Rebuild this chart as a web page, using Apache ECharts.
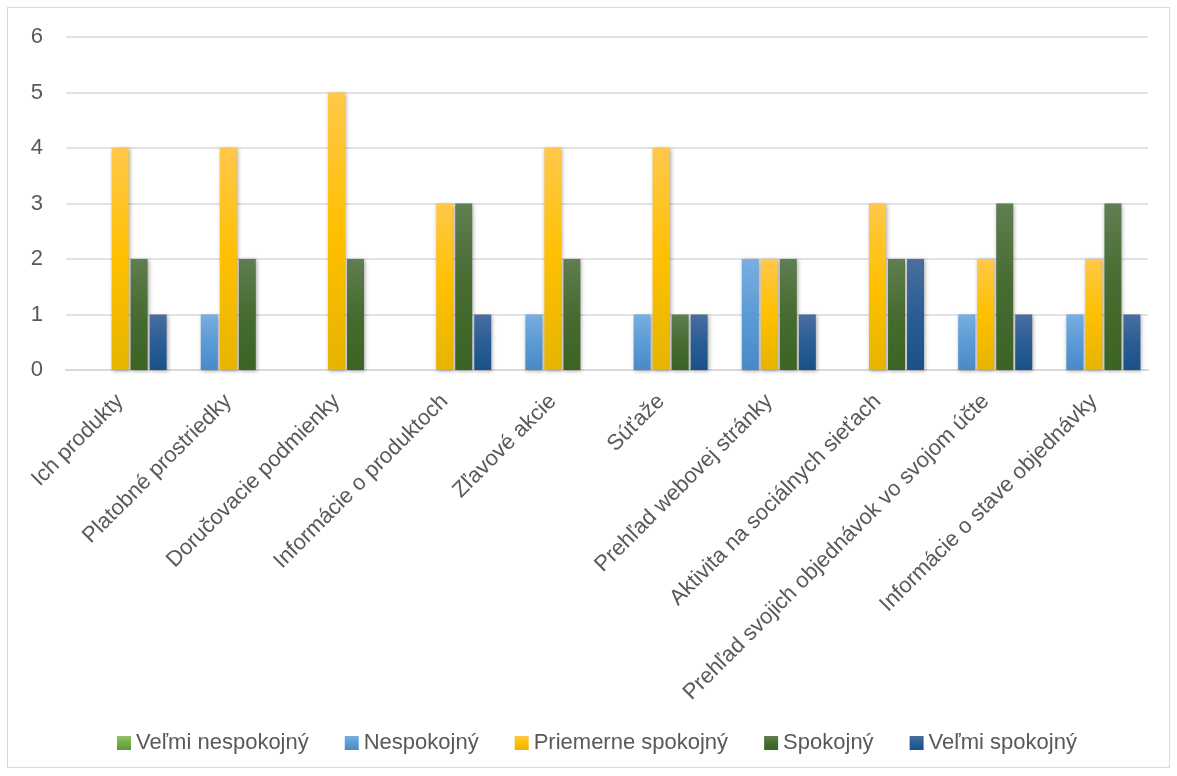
<!DOCTYPE html>
<html>
<head>
<meta charset="utf-8">
<script src="https://cdn.jsdelivr.net/npm/echarts@6/dist/echarts.min.js"></script>
<style>
  html, body { margin: 0; padding: 0; background: #fff; }
  #frame { position: absolute; left: 7px; top: 7px; width: 1163px; height: 761px; border: 1px solid #d9d9d9; box-sizing: border-box; }
  #chart { width: 1177px; height: 776px; }
</style>
</head>
<body>
<div id="frame"></div>
<div id="chart"></div>
<script>
const categories = [
  'Ich produkty', 'Platobné prostriedky', 'Doručovacie podmienky', 'Informácie o produktoch',
  'Zľavové akcie', 'Súťaže', 'Prehľad webovej stránky', 'Aktivita na sociálnych sieťach',
  'Prehľad svojich objednávok vo svojom účte', 'Informácie o stave objednávky'
];
const seriesNames = ['Veľmi nespokojný', 'Nespokojný', 'Priemerne spokojný', 'Spokojný', 'Veľmi spokojný'];
const velmiNespokojny = [0, 0, 0, 0, 0, 0, 0, 0, 0, 0];
const nespokojny = [0, 1, 0, 0, 1, 1, 2, 0, 1, 1];
const priemerneSpokojny = [4, 4, 5, 3, 4, 4, 2, 3, 2, 2];
const spokojny = [2, 2, 2, 3, 2, 1, 2, 2, 3, 3];
const velmiSpokojny = [1, 0, 0, 1, 0, 1, 1, 2, 1, 1];
const yTicks = [0, 1, 2, 3, 4, 5, 6];

// gradient colours: [top, middle, bottom]
const palettes = [
  ['#8fc46a', '#70ad47', '#5f9a3a'],
  ['#7aaee0', '#5b9bd5', '#4a89c8'],
  ['#ffc84a', '#ffc000', '#e6b400'],
  ['#5f7e51', '#476b30', '#3b6424'],
  ['#4b6e9e', '#2a5d95', '#1a5189']
];
const values = [velmiNespokojny, nespokojny, priemerneSpokojny, spokojny, velmiSpokojny];

function grad(p) {
  return new echarts.graphic.LinearGradient(0, 0, 0, 1, [
    { offset: 0, color: p[0] },
    { offset: 0.5, color: p[1] },
    { offset: 1, color: p[2] }
  ]);
}

const chart = echarts.init(document.getElementById('chart'));
const font = '"Liberation Sans", "DejaVu Sans", sans-serif';

chart.setOption({
  animation: false,
  textStyle: { fontFamily: font },
  legend: {
    bottom: 17,
    left: 112,
    itemWidth: 14,
    itemHeight: 14,
    itemGap: 36,
    icon: 'rect',
    textStyle: { color: '#595959', fontSize: 22, fontFamily: font },
    data: seriesNames.map((n, i) => ({ name: n, itemStyle: { color: grad(palettes[i]) } }))
  },
  grid: { left: 66, right: 29, top: 37, bottom: 406, containLabel: false },
  xAxis: {
    type: 'category',
    data: categories,
    axisLine: { show: true, lineStyle: { color: '#d9d9d9', width: 2 } },
    axisTick: { show: false },
    axisLabel: { rotate: 45, interval: 0, color: '#595959', fontSize: 22, margin: 28, fontFamily: font }
  },
  yAxis: {
    type: 'value',
    min: yTicks[0],
    max: yTicks[yTicks.length - 1],
    interval: 1,
    axisLine: { show: false },
    axisTick: { show: false },
    axisLabel: { color: '#595959', fontSize: 22, margin: 23, fontFamily: font },
    splitLine: { lineStyle: { color: '#d9d9d9', width: 1.5 } }
  },
  series: seriesNames.map((n, i) => ({
    name: n,
    type: 'bar',
    data: values[i],
    barGap: '12%',
    barCategoryGap: '14%',
    itemStyle: {
      color: grad(palettes[i]),
      shadowColor: 'rgba(0,0,0,0.35)',
      shadowBlur: 4,
      shadowOffsetX: 1,
      shadowOffsetY: 1
    }
  }))
});
</script>
</body>
</html>
